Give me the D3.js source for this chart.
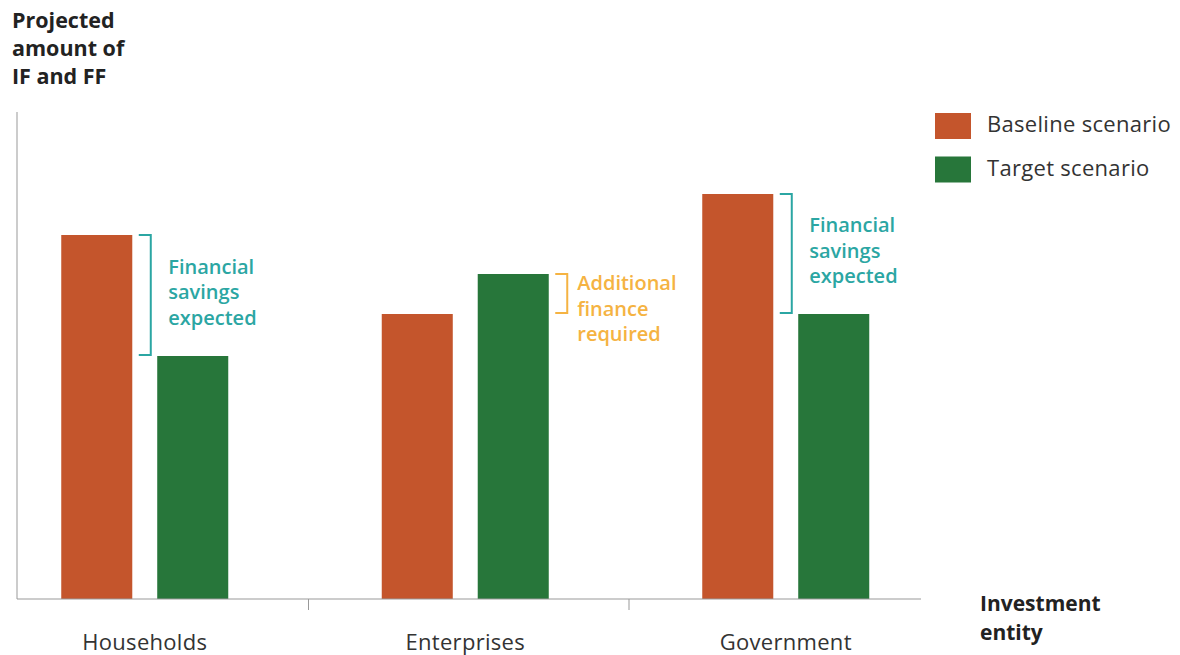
<!DOCTYPE html>
<html>
<head>
<meta charset="utf-8">
<script src="https://cdn.jsdelivr.net/npm/d3@7"></script>
<style>
  body { margin: 0; background: #fff; }
  svg { font-family: "Open Sans", sans-serif; }
</style>
</head>
<body>
<div id="chart"></div>
<script>
// data
const entities = ["Households", "Enterprises", "Government"]
const scenarios = ["Baseline scenario", "Target scenario"]
const baselineValues = [364, 285, 405]
const targetValues = [243, 325, 285]
const notes = [
  {entity: "Households", lines: ["Financial", "savings", "expected"], kind: "saving"},
  {entity: "Enterprises", lines: ["Additional", "finance", "required"], kind: "extra"},
  {entity: "Government", lines: ["Financial", "savings", "expected"], kind: "saving"}
]

const baselineColor = "#c4552c"
const targetColor = "#27763a"
const noteColors = {saving: "#2ba6a3", extra: "#f5b342"}

const width = 1180, height = 655
const plot = {left: 17, top: 112, right: 921, bottom: 599}

const svg = d3.select("#chart")
  .append("svg")
  .attr("width", width)
  .attr("height", height)

// scales
const x = d3.scaleBand()
  .domain(entities)
  .range([-15.5, 946])

const x1 = d3.scaleBand()
  .domain(scenarios)
  .range([x.bandwidth() / 2 - 83.5, x.bandwidth() / 2 + 83.5])
  .paddingInner(0.26)

const y = d3.scaleLinear()
  .domain([0, 487])
  .range([plot.bottom, plot.top])

const rows = entities.map((e, i) => ({entity: e, values: [baselineValues[i], targetValues[i]]}))

// bars
const groups = svg.selectAll(".group")
  .data(rows)
  .join("g")
  .attr("class", "group")
  .attr("transform", d => `translate(${x(d.entity)},0)`)

groups.selectAll("rect")
  .data(d => d.values.map((v, i) => ({scenario: scenarios[i], value: v})))
  .join("rect")
  .attr("x", d => x1(d.scenario))
  .attr("y", d => y(d.value))
  .attr("width", x1.bandwidth())
  .attr("height", d => y(0) - y(d.value))
  .attr("fill", d => d.scenario === scenarios[0] ? baselineColor : targetColor)

// axes
svg.append("line")
  .attr("x1", plot.left).attr("x2", plot.left)
  .attr("y1", plot.top).attr("y2", plot.bottom)
  .attr("stroke", "#999").attr("stroke-width", 1)

svg.append("line")
  .attr("x1", plot.left).attr("x2", plot.right)
  .attr("y1", plot.bottom).attr("y2", plot.bottom)
  .attr("stroke", "#999").attr("stroke-width", 1)

svg.selectAll(".sep")
  .data(entities.slice(1))
  .join("line")
  .attr("class", "sep")
  .attr("x1", d => x(d) + 3.5).attr("x2", d => x(d) + 3.5)
  .attr("y1", plot.bottom).attr("y2", plot.bottom + 11)
  .attr("stroke", "#999")

const xAxis = svg.append("g")
  .attr("transform", `translate(0,${plot.bottom})`)
  .call(d3.axisBottom(x).tickSize(0).tickPadding(35))
xAxis.select(".domain").remove()
xAxis.selectAll("text")
  .attr("font-size", 22)
  .attr("font-family", "Open Sans, sans-serif")
  .attr("letter-spacing", 0.3)
  .attr("fill", "#333")

// brackets and notes
notes.forEach(n => {
  const i = entities.indexOf(n.entity)
  const b = baselineValues[i], t = targetValues[i]
  // bracket sits right of the taller bar's pair edge
  const edge = b > t
    ? x(n.entity) + x1(scenarios[0]) + x1.bandwidth()
    : x(n.entity) + x1(scenarios[1]) + x1.bandwidth()
  const bx = edge + 18.5
  const top = y(Math.max(b, t)), bot = y(Math.min(b, t)) - 1
  const col = noteColors[n.kind]
  svg.append("path")
    .attr("d", `M${bx - 12},${top}H${bx}V${bot}H${bx - 12}`)
    .attr("fill", "none")
    .attr("stroke", col)
    .attr("stroke-width", 2)
  const tx = n.kind === "saving" ? bx + 17.5 : bx + 10
  const ty = n.kind === "saving" ? (top + bot) / 2 + 4 - 25.5 : top + 16
  const txt = svg.append("text")
    .attr("y", ty)
    .attr("fill", col)
    .attr("font-size", 20)
    .attr("font-weight", 600)
  txt.selectAll("tspan")
    .data(n.lines)
    .join("tspan")
    .attr("x", tx)
    .attr("dy", (d, j) => j === 0 ? 0 : 25.5)
    .text(d => d)
})

// legend
const legend = svg.selectAll(".legend")
  .data(scenarios)
  .join("g")
  .attr("class", "legend")
  .attr("transform", (d, i) => `translate(935,${113 + i * 43.5})`)

legend.append("rect")
  .attr("width", 36).attr("height", 26)
  .attr("fill", (d, i) => i === 0 ? baselineColor : targetColor)

legend.append("text")
  .attr("x", 52).attr("y", 19)
  .attr("font-size", 22)
  .attr("letter-spacing", 0.3)
  .attr("fill", "#333")
  .text(d => d)

// axis titles
const yTitle = svg.append("text")
  .attr("font-size", 21.5).attr("font-weight", 700).attr("fill", "#222")
yTitle.selectAll("tspan")
  .data(["Projected", "amount of", "IF and FF"])
  .join("tspan")
  .attr("x", 12)
  .attr("y", (d, i) => 28 + i * 28)
  .text(d => d)

const xTitle = svg.append("text")
  .attr("font-size", 21).attr("font-weight", 700).attr("fill", "#222")
xTitle.selectAll("tspan")
  .data(["Investment", "entity"])
  .join("tspan")
  .attr("x", 980)
  .attr("y", (d, i) => 611 + i * 29)
  .text(d => d)
</script>
</body>
</html>
